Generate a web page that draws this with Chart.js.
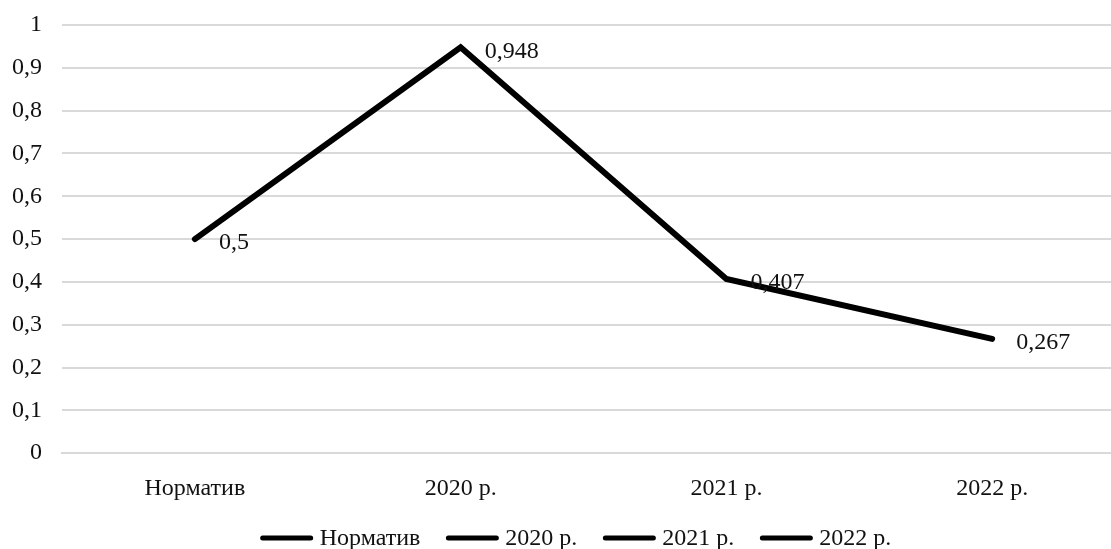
<!DOCTYPE html>
<html>
<head>
<meta charset="utf-8">
<script src="https://cdn.jsdelivr.net/npm/chart.js@4/dist/chart.umd.min.js"></script>
<style>
  html, body { margin: 0; padding: 0; background: #fff; overflow: hidden; }
  #wrap { position: relative; width: 1125px; height: 549px; }
</style>
</head>
<body>
<div id="wrap"><canvas id="chart"></canvas></div>
<script>
// Categories and values of the coefficient
const categories = ['Норматив', '2020 р.', '2021 р.', '2022 р.'];
const values = [0.5, 0.948, 0.407, 0.267];
const yTickLabels = ['0', '0,1', '0,2', '0,3', '0,4', '0,5', '0,6', '0,7', '0,8', '0,9', '1'];

const FONT = 'Liberation Serif, "Times New Roman", serif';
const FONT_SIZE = 24;
const TEXT = '#111';

const fmt = v => String(v).replace('.', ',');

// Draws the value next to each point of the line
const valueLabels = {
  id: 'valueLabels',
  afterDatasetsDraw(chart) {
    const ctx = chart.ctx;
    const meta = chart.getDatasetMeta(0);
    const ds = chart.data.datasets[0];
    ctx.save();
    ctx.font = FONT_SIZE + 'px ' + FONT;
    ctx.fillStyle = TEXT;
    ctx.textAlign = 'left';
    ctx.textBaseline = 'middle';
    meta.data.forEach((pt, i) => {
      ctx.fillText(fmt(ds.data[i]), pt.x + 24, pt.y + 4);
    });
    ctx.restore();
  }
};

// Legend row under the axis: one line sample per category
const categoryLegend = {
  id: 'categoryLegend',
  afterDraw(chart, args, opts) {
    const ctx = chart.ctx;
    const labels = chart.data.labels;
    ctx.save();
    ctx.font = FONT_SIZE + 'px ' + FONT;
    const widths = labels.map(t => ctx.measureText(t).width);
    const itemW = widths.map(w => opts.lineLength + opts.gap + w);
    const total = itemW.reduce((a, b) => a + b, 0) + opts.spacing * (labels.length - 1);
    let x = opts.centerX - total / 2;
    const y = opts.y;
    labels.forEach((t, i) => {
      ctx.beginPath();
      ctx.lineCap = 'round';
      ctx.lineWidth = 5;
      ctx.strokeStyle = '#000';
      ctx.moveTo(x, y);
      ctx.lineTo(x + opts.lineLength, y);
      ctx.stroke();
      ctx.fillStyle = TEXT;
      ctx.textAlign = 'left';
      ctx.textBaseline = 'middle';
      ctx.fillText(t, x + opts.lineLength + opts.gap, y + 1);
      x += itemW[i] + opts.spacing;
    });
    ctx.restore();
  }
};

new Chart(document.getElementById('chart'), {
  type: 'line',
  data: {
    labels: categories,
    datasets: [{
      label: 'Коефіцієнт',
      data: values,
      borderColor: '#000',
      borderWidth: 6,
      borderCapStyle: 'round',
      borderJoinStyle: 'miter',
      pointRadius: 0,
      pointHoverRadius: 0,
      fill: false,
      tension: 0
    }]
  },
  options: {
    responsive: true,
    maintainAspectRatio: false,
    animation: false,
    layout: { padding: { left: 12, right: 0, top: 25, bottom: 25 } },
    plugins: {
      tooltip: { enabled: false },
      legend: { display: false },
      categoryLegend: { centerX: 577, y: 538, lineLength: 48, gap: 9, spacing: 28 }
    },
    scales: {
      x: {
        offset: true,
        grid: { display: false, drawTicks: false },
        border: { display: true, color: '#d9d9d9', width: 2 },
        ticks: {
          color: TEXT,
          font: { family: FONT, size: FONT_SIZE },
          padding: 21,
          maxRotation: 0
        },
        afterFit(scale) {
          scale.paddingLeft = 0;
          scale.paddingRight = 0;
        }
      },
      y: {
        min: 0,
        max: 1,
        grid: { color: '#d9d9d9', lineWidth: 2, drawTicks: false },
        border: { display: false },
        ticks: {
          stepSize: 0.1,
          color: TEXT,
          font: { family: FONT, size: FONT_SIZE },
          padding: 20,
          callback: (v, i) => yTickLabels[i]
        },
        afterFit(scale) {
          scale.width = 50;
          scale.paddingTop = 0;
          scale.paddingBottom = 0;
        }
      }
    }
  },
  plugins: [valueLabels, categoryLegend]
});
</script>
</body>
</html>
